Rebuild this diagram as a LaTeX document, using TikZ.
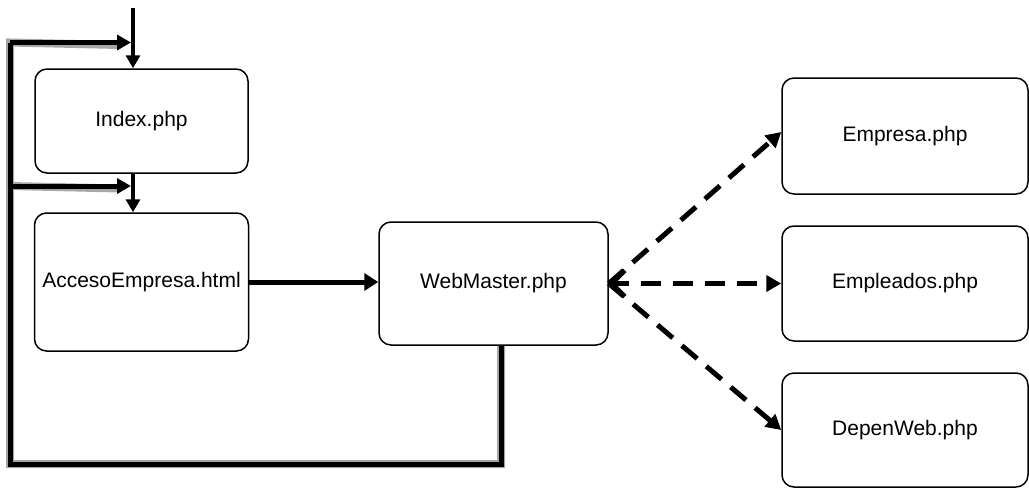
\documentclass[tikz,border=0pt]{standalone}
\usepackage{fontspec}
\setmainfont{Liberation Sans}
\usetikzlibrary{arrows.meta}
\begin{document}
\begin{tikzpicture}[x=1pt,y=-1pt,
  box/.style={draw, rounded corners=12pt, line width=1.5pt, fill=white, inner sep=0pt,
    font=\fontsize{21}{25}\selectfont},
  thinarrow/.style={line width=3.2pt, -{Triangle[length=13pt,width=14pt]}},
  thickarrow/.style={line width=5pt, -{Triangle[length=14pt,width=17pt]}},
  looparrow/.style={line width=5pt, -{Triangle[length=14pt,width=15pt]}},
  loopline/.style={line width=5pt, line join=miter},
  loopshadow/.style={line width=8pt, draw=black!35},
  dasharrow/.style={line width=5pt, dash pattern=on 20pt off 12pt, -{Triangle[length=15pt,width=16pt]}},
  barb/.style={line width=4.5pt, -{Straight Barb[length=13pt,width=26pt]}}
]
\useasboundingbox (0,0) rectangle (1029,488);
\node[box, minimum width=213pt, minimum height=104pt] (idx) at (141.5,121) {Index.php};
\node[box, minimum width=214pt, minimum height=138pt] (acc) at (141.5,282) {AccesoEmpresa.html};
\node[box, minimum width=229pt, minimum height=123pt] (web) at (493.5,283.5) {WebMaster.php};
\node[box, minimum width=246pt, minimum height=116pt] (emp) at (905,136) {Empresa.php};
\node[box, minimum width=246pt, minimum height=115pt] (empl) at (905,283.5) {Empleados.php};
\node[box, minimum width=246pt, minimum height=114pt] (dep) at (905,430) {DepenWeb.php};
% coordinates of the feedback loop
\coordinate (topin) at (133,8);
\coordinate (lx) at (501,0);
\coordinate (c1) at (501,464);
\coordinate (c2) at (10,464);
\coordinate (c3) at (10,42.5);
\coordinate (c4) at (10,186);
\coordinate (e3) at (131,42.5);
\coordinate (e4) at (131,186);
% loop shadows
\begin{scope}[shift={(0,2.5)}]
  \draw[loopshadow] (lx |- web.south) -- (c1) -- (c2) -- (c3) -- (120,42.5);
  \draw[loopshadow] (c4) -- (120,186);
\end{scope}
% loop lines
\draw[loopline] (lx |- web.south) -- (c1) -- (c2) -- (c3);
\draw[looparrow] (c3) -- (e3);
\draw[looparrow] (c4) -- (e4);
% vertical arrows
\draw[thinarrow] (topin) -- (topin |- idx.north);
\draw[thinarrow] (topin |- idx.south) -- (topin |- acc.north);
% acc -> web
\draw[thickarrow] (acc.east) -- (acc.east -| web.west);
% dashed arrows
\draw[dasharrow] (web.east) -- ([yshift=4pt]emp.west);
\draw[dasharrow] (web.east) -- (empl.west);
\draw[dasharrow] (web.east) -- (dep.west);
\draw[barb] ([xshift=2pt]web.east) -- (web.east);
\end{tikzpicture}
\end{document}
